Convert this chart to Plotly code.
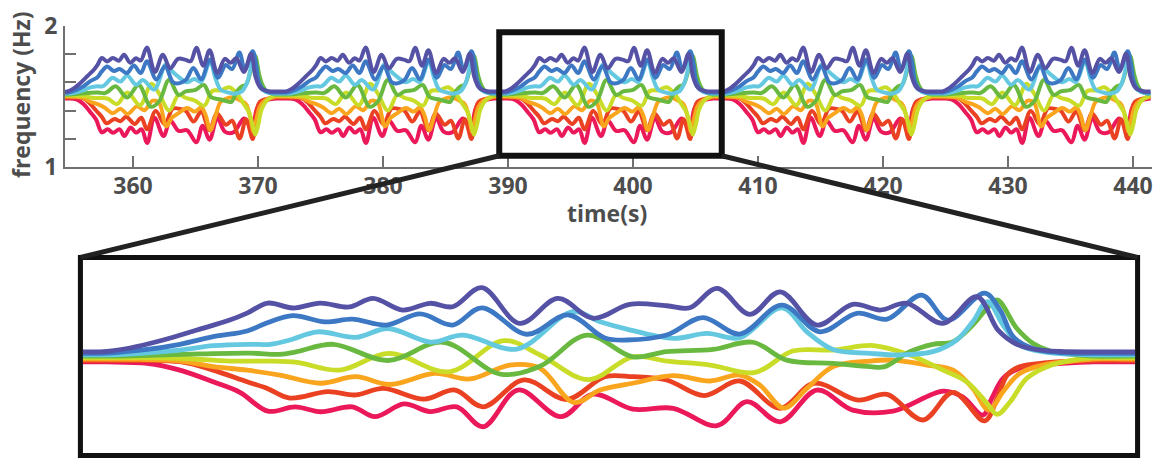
import plotly.graph_objects as go

W, H = 1161, 460

# ---------------- data ----------------
CYCLE_PERIOD = 17.5                       # s, each stimulation cycle
CYCLE_STARTS = [354.4, 371.9, 389.4, 406.9, 424.4]
ZOOM_T = [389.4, 407.1]                   # zoomed time window (s)
ZOOM_F = [1.042, 1.983]                   # zoomed frequency window (Hz)
BOX_T = [389.3, 407.1]                    # outline drawn on the overview
BOX_F = [1.08, 1.955]

X_TICKS = [360, 370, 380, 390, 400, 410, 420, 430, 440]
Y_TICKS = [1, 1.2, 1.4, 1.6, 1.8, 2]
Y_TICK_TEXT = ["1", "", "", "", "", "2"]

COLORS = ["#eb195a", "#eb4123", "#faa51e", "#c8dc28",
          "#69b941", "#64c8e1", "#3c78c3", "#5552a5"]

# (phase within cycle in s, frequency in Hz)
PURPLE = [(0, 1.535), (0.35, 1.536), (0.79, 1.554), (1.35, 1.593), (1.92, 1.642),
          (2.47, 1.690), (2.76, 1.724), (3.11, 1.773), (3.53, 1.749), (3.99, 1.773),
          (4.48, 1.754), (4.88, 1.796), (5.38, 1.739), (5.84, 1.772), (6.22, 1.755),
          (6.71, 1.848), (7.35, 1.674), (7.99, 1.796), (8.58, 1.699), (9.20, 1.767),
          (9.82, 1.760), (10.21, 1.750), (10.67, 1.845), (11.22, 1.718), (11.73, 1.828),
          (12.35, 1.666), (12.95, 1.767), (13.41, 1.739), (13.86, 1.772), (14.47, 1.674),
          (15.04, 1.804), (15.40, 1.640), (15.71, 1.572), (15.98, 1.549), (16.44, 1.537),
          (17.0, 1.535)]
BLUE = [(0, 1.528), (0.4, 1.529), (1.08, 1.547), (1.63, 1.572), (2.19, 1.609),
        (2.76, 1.637), (3.09, 1.676), (3.53, 1.712), (4.07, 1.681), (4.53, 1.695),
        (5.11, 1.666), (5.67, 1.720), (6.22, 1.666), (6.71, 1.750), (7.47, 1.621),
        (8.16, 1.715), (8.78, 1.603), (9.15, 1.593), (9.82, 1.617), (10.43, 1.702),
        (11.05, 1.622), (11.76, 1.763), (12.40, 1.633), (13.02, 1.723), (13.53, 1.695),
        (14.11, 1.812), (14.55, 1.690), (15.17, 1.821), (15.43, 1.739), (15.65, 1.609),
        (15.98, 1.552), (16.44, 1.532), (17.0, 1.528)]
CYAN = [(0, 1.521), (0.6, 1.522), (1.63, 1.544), (2.19, 1.565), (2.81, 1.572),
        (3.15, 1.572), (3.48, 1.593), (3.95, 1.633), (4.59, 1.606), (5.13, 1.649),
        (5.85, 1.583), (6.39, 1.617), (7.30, 1.549), (8.24, 1.731), (8.70, 1.682),
        (9.15, 1.646), (9.93, 1.601), (10.50, 1.625), (11.05, 1.604), (11.76, 1.750),
        (12.18, 1.633), (12.62, 1.547), (13.24, 1.528), (13.75, 1.520), (14.30, 1.536),
        (14.70, 1.593), (14.97, 1.682), (15.22, 1.780), (15.48, 1.666), (15.76, 1.568),
        (16.22, 1.533), (16.72, 1.523), (17.0, 1.521)]
GREEN = [(0, 1.514), (0.8, 1.516), (1.97, 1.525), (2.81, 1.529), (3.31, 1.523),
         (3.60, 1.536), (4.21, 1.572), (5.13, 1.493), (6.06, 1.582), (7.02, 1.427),
         (7.69, 1.465), (8.48, 1.617), (9.25, 1.511), (9.82, 1.536), (10.60, 1.547),
         (11.27, 1.582), (11.84, 1.495), (12.62, 1.479), (13.24, 1.463), (13.49, 1.463),
         (13.91, 1.536), (14.30, 1.572), (14.64, 1.585), (14.97, 1.666), (15.21, 1.747),
         (15.38, 1.788), (15.71, 1.650), (15.98, 1.577), (16.27, 1.539), (16.72, 1.520),
         (17.0, 1.514)]
YELLOW = [(0, 1.507), (0.8, 1.507), (1.63, 1.504), (2.47, 1.490), (3.09, 1.490),
          (3.60, 1.484), (4.32, 1.446), (5.15, 1.528), (6.16, 1.438), (7.08, 1.590),
          (7.69, 1.520), (8.50, 1.400), (9.25, 1.511), (9.82, 1.490), (10.55, 1.471),
          (11.31, 1.435), (11.94, 1.539), (12.62, 1.544), (13.30, 1.566), (13.91, 1.520),
          (14.47, 1.446), (14.87, 1.389), (15.21, 1.284), (15.38, 1.230), (15.60, 1.292),
          (15.88, 1.406), (16.22, 1.463), (16.72, 1.498), (17.0, 1.507)]
ORANGE = [(0, 1.500), (0.8, 1.499), (1.63, 1.490), (2.19, 1.463), (2.76, 1.446),
          (3.31, 1.422), (4.00, 1.382), (4.59, 1.414), (5.16, 1.376), (5.92, 1.430),
          (6.51, 1.403), (7.18, 1.471), (7.69, 1.455), (8.26, 1.288), (8.70, 1.349),
          (9.25, 1.382), (9.93, 1.419), (10.55, 1.393), (11.05, 1.422), (11.39, 1.373),
          (11.79, 1.261), (12.18, 1.357), (12.62, 1.463), (13.24, 1.490), (13.63, 1.495),
          (14.20, 1.471), (14.64, 1.446), (14.97, 1.357), (15.24, 1.251), (15.48, 1.341),
          (15.76, 1.430), (16.15, 1.471), (16.72, 1.492), (17.0, 1.500)]
RED = [(0, 1.493), (0.8, 1.492), (1.63, 1.487), (2.19, 1.446), (2.76, 1.389),
       (3.10, 1.357), (3.48, 1.310), (4.12, 1.341), (4.59, 1.325), (5.05, 1.357),
       (5.74, 1.305), (6.26, 1.349), (6.73, 1.267), (7.42, 1.398), (8.14, 1.303),
       (8.78, 1.414), (9.25, 1.414), (9.82, 1.398), (10.45, 1.322), (11.05, 1.393),
       (11.73, 1.260), (12.30, 1.382), (13.04, 1.300), (13.53, 1.328), (14.13, 1.203),
       (14.64, 1.338), (15.17, 1.199), (15.38, 1.308), (15.55, 1.422), (15.76, 1.463),
       (16.22, 1.482), (17.0, 1.493)]
CRIMSON = [(0, 1.486), (0.4, 1.486), (1.08, 1.479), (1.63, 1.446), (2.19, 1.389),
           (2.64, 1.338), (3.11, 1.246), (3.57, 1.267), (4.00, 1.243), (4.53, 1.267),
           (4.91, 1.219), (5.40, 1.281), (5.84, 1.244), (6.29, 1.267), (6.73, 1.170),
           (7.32, 1.349), (8.04, 1.219), (8.58, 1.329), (9.25, 1.256), (9.93, 1.260),
           (10.67, 1.175), (11.17, 1.292), (11.73, 1.194), (12.35, 1.349), (12.95, 1.251),
           (13.63, 1.246), (14.47, 1.344), (14.80, 1.316), (15.14, 1.227), (15.29, 1.308),
           (15.48, 1.406), (15.76, 1.455), (16.15, 1.471), (17.0, 1.486)]

SERIES = [CRIMSON, RED, ORANGE, YELLOW, GREEN, CYAN, BLUE, PURPLE]

# ---------------- layout geometry (pixels) ----------------
TOP_X_DOM = [65 / W, 1152 / W]
TOP_Y_DOM = [1 - 167 / H, 1 - 26 / H]
TOP_X_RANGE = [354.56, 441.52]
TOP_Y_RANGE = [1, 2]
BOT_X_DOM = [83 / W, 1135 / W]
BOT_Y_DOM = [1 - 453 / H, 1 - 260 / H]

fig = go.Figure()
for pts, color in zip(SERIES, COLORS):
    xs, ys = [], []
    for start in CYCLE_STARTS:
        for p, f in pts:
            xs.append(start + p)
            ys.append(f)
    fig.add_trace(go.Scatter(x=xs, y=ys, mode="lines", xaxis="x", yaxis="y",
                             line=dict(color=color, width=4.0, shape="spline", smoothing=1.0),
                             showlegend=False, hoverinfo="skip"))
    fig.add_trace(go.Scatter(x=xs, y=ys, mode="lines", xaxis="x2", yaxis="y2",
                             line=dict(color=color, width=4.8, shape="spline", smoothing=1.0),
                             showlegend=False, hoverinfo="skip"))

AX = "#707070"
TXT = "#4d4d4d"
tick_font = dict(family="Open Sans", size=23, color=TXT, weight="bold")

fig.update_layout(
    width=W, height=H, margin=dict(l=0, r=0, t=0, b=0, autoexpand=False),
    paper_bgcolor="white", plot_bgcolor="white",
    xaxis=dict(domain=TOP_X_DOM, range=TOP_X_RANGE, anchor="y", showgrid=False, zeroline=False,
               showline=True, linecolor=AX, linewidth=2, ticks="inside", ticklen=11, tickwidth=2,
               tickcolor=AX, tickvals=X_TICKS, tickfont=tick_font, ticklabelstandoff=-3,
               automargin=False),
    yaxis=dict(domain=TOP_Y_DOM, range=TOP_Y_RANGE, anchor="x", showgrid=False, zeroline=False,
               showline=True, linecolor=AX, linewidth=2, ticks="inside", ticklen=11, tickwidth=2,
               tickcolor=AX, tickvals=Y_TICKS, ticktext=Y_TICK_TEXT, tickfont=tick_font,
               ticklabelstandoff=1, automargin=False),
    xaxis2=dict(domain=BOT_X_DOM, range=ZOOM_T, anchor="y2", showgrid=False, zeroline=False,
                showline=True, mirror=True, linecolor="#a0a0a0", linewidth=1.5,
                showticklabels=False, ticks="", automargin=False),
    yaxis2=dict(domain=BOT_Y_DOM, range=ZOOM_F, anchor="x2", showgrid=False, zeroline=False,
                showline=True, mirror=True, linecolor="#a0a0a0", linewidth=1.5,
                showticklabels=False, ticks="", automargin=False),
)


def top_px(t, f):
    x = TOP_X_DOM[0] + (t - TOP_X_RANGE[0]) / (TOP_X_RANGE[1] - TOP_X_RANGE[0]) * (TOP_X_DOM[1] - TOP_X_DOM[0])
    y = TOP_Y_DOM[0] + (f - TOP_Y_RANGE[0]) / (TOP_Y_RANGE[1] - TOP_Y_RANGE[0]) * (TOP_Y_DOM[1] - TOP_Y_DOM[0])
    return x, y


FRAME_PAD = 2.6
fx0 = BOT_X_DOM[0] - FRAME_PAD / W
fx1 = BOT_X_DOM[1] + FRAME_PAD / W
fy0 = BOT_Y_DOM[0] - FRAME_PAD / H
fy1 = BOT_Y_DOM[1] + FRAME_PAD / H

bl = top_px(BOX_T[0], BOX_F[0])
br = top_px(BOX_T[1], BOX_F[0])

shapes = [
    dict(type="rect", xref="x", yref="y", x0=BOX_T[0], x1=BOX_T[1], y0=BOX_F[0], y1=BOX_F[1],
         line=dict(color="#111111", width=6), layer="above"),
    dict(type="rect", xref="paper", yref="paper", x0=fx0, x1=fx1, y0=fy0, y1=fy1,
         line=dict(color="#111111", width=5), layer="above"),
    dict(type="line", xref="paper", yref="paper", x0=bl[0], y0=bl[1], x1=fx0, y1=fy1,
         line=dict(color="#222222", width=5), layer="above"),
    dict(type="line", xref="paper", yref="paper", x0=br[0], y0=br[1], x1=fx1, y1=fy1,
         line=dict(color="#222222", width=5), layer="above"),
]
fig.update_layout(shapes=shapes)

title_font = dict(family="Open Sans", size=23, color=TXT, weight="bold")
fig.add_annotation(text="time(s)", xref="paper", yref="paper", x=607 / W, y=1 - 213 / H,
                   xanchor="center", yanchor="middle", showarrow=False, font=title_font)
fig.add_annotation(text="frequency (Hz)", xref="paper", yref="paper", x=21 / W, y=1 - 95 / H,
                   xanchor="center", yanchor="middle", showarrow=False, textangle=-90,
                   font=title_font)

fig.write_html("out.html", config={"displayModeBar": False},
               post_script="document.body.style.margin='0';")
